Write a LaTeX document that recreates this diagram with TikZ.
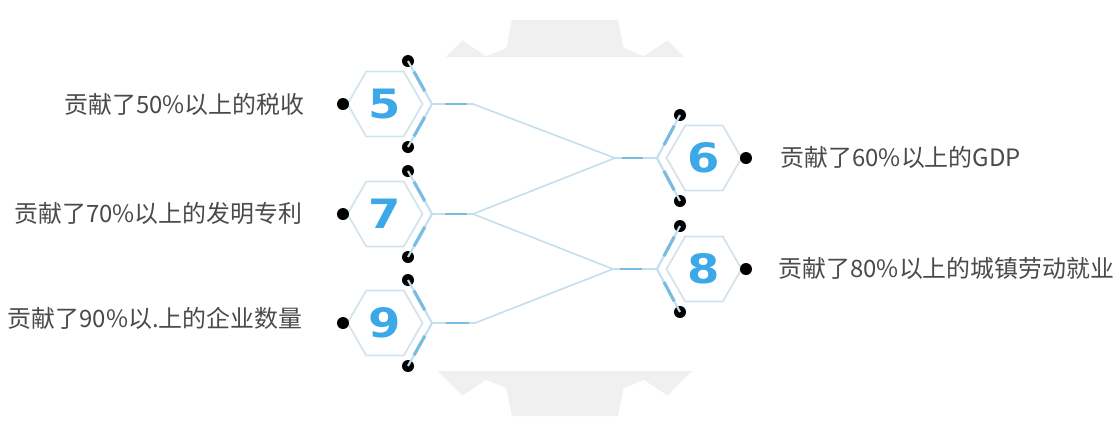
\documentclass[tikz,border=0pt]{standalone}
\usepackage{fontspec}
\newfontfamily\cjk{Noto Sans CJK SC}
\newfontfamily\numfont{DejaVu Sans}
\usetikzlibrary{shapes.geometric,calc}
\definecolor{hexline}{HTML}{D2E3EC}
\definecolor{linklight}{HTML}{C3DEEC}
\definecolor{linkdark}{HTML}{78BCE2}
\definecolor{numblue}{HTML}{3DA8E8}
\definecolor{labelgray}{HTML}{4A4A4A}
\definecolor{gearbg}{HTML}{F0F0F0}
\tikzset{
  hexbox/.style={regular polygon, regular polygon sides=6, minimum size=0.75cm, inner sep=0pt, draw=hexline, line width=0.5pt, text=numblue, font=\numfont\bfseries\fontsize{11.5}{12}\selectfont},
  dotnode/.style={circle, fill=black, inner sep=0pt, minimum size=0.12cm},
  chev/.style={draw=linklight, line width=0.6pt},
  chevdark/.style={draw=linkdark, line width=0.9pt},
  link/.style={draw=linklight, line width=0.45pt},
  linkhl/.style={draw=linkdark, line width=0.8pt},
  lbl/.style={text=labelgray, font=\cjk\fontsize{6.8}{8}\selectfont, inner sep=0pt}
}
\newcommand{\wdig}[1]{\scalebox{1.15}[1]{#1}}
\begin{document}
\begin{tikzpicture}[x=0.01cm, y=-0.01cm]
\useasboundingbox (0,0) rectangle (1120,423);
% background gear
\begin{scope}
\clip (0,0) rectangle (1120,57) (0,371) rectangle (1120,423);
\fill[gearbg, shift={(565,218)}] (72:180)
  \foreach \k in {0,...,7} {
    -- ({90+45*\k-19}:180) -- ({90+45*\k-15}:205) -- ({90+45*\k+15}:205)
    -- ({90+45*\k+19}:180) -- ({90+45*\k+26}:180)
  } -- cycle;
\end{scope}
% hexagons
\node[hexbox] (h5) at (385,104) {\wdig{5}};
\node[hexbox] (h7) at (385,214) {\wdig{7}};
\node[hexbox] (h9) at (385,323) {\wdig{9}};
\node[hexbox] (h6) at (704,158) {\wdig{6}};
\node[hexbox] (h8) at (704,269) {\wdig{8}};
% chevron vertices and junctions
\coordinate (c5) at (432,104);
\coordinate (c7) at (432,214);
\coordinate (c9) at (432,323);
\coordinate (c6) at (657,158);
\coordinate (c8) at (657,269);
\coordinate (j5) at (473,104);
\coordinate (j7) at (473,214);
\coordinate (j9) at (475,323);
\coordinate (k6) at (615,158);
\coordinate (k8) at (613,269);
% dots
\foreach \n/\y in {5/104,7/214,9/323}{
  \node[dotnode] (d\n t) at (408,\y-43) {};
  \node[dotnode] (d\n b) at (408,\y+43) {};
  \node[dotnode] (d\n l) at (343,\y) {};
}
\foreach \n/\y in {6/158,8/269}{
  \node[dotnode] (d\n t) at (680,\y-43) {};
  \node[dotnode] (d\n b) at (680,\y+43) {};
  \node[dotnode] (d\n r) at (746,\y) {};
}
% chevrons
\foreach \n in {5,7,9,6,8}{
  \draw[chev] (d\n t.center) -- (c\n) -- (d\n b.center);
  \draw[chevdark] ($(d\n t.center)!0.25!(c\n)$) -- ($(d\n t.center)!0.7!(c\n)$);
  \draw[chevdark] ($(d\n b.center)!0.25!(c\n)$) -- ($(d\n b.center)!0.7!(c\n)$);
}
% connectors
\draw[link] (c5) -- (j5) -- (k6) -- (c6);
\draw[link] (c7) -- (j7) -- (k6);
\draw[link] (j7) -- (k8) -- (c8);
\draw[link] (c9) -- (j9) -- (k8);
\foreach \a/\b in {c5/j5,c7/j7,c9/j9}{
  \draw[linkhl] ($(\a)!0.32!(\b)$) -- ($(\a)!0.85!(\b)$);
}
\foreach \a/\b in {k6/c6,k8/c8}{
  \draw[linkhl] ($(\a)!0.17!(\b)$) -- ($(\a)!0.67!(\b)$);
}
% labels
\node[lbl, anchor=east] (t5) at (305,104) {贡献了50\%以上的税收};
\node[lbl, anchor=east] (t7) at (303,213) {贡献了70\%以上的发明专利};
\node[lbl, anchor=east] (t9) at (303,318) {贡献了90\%以.上的企业数量};
\node[lbl, anchor=west] (t6) at (780,157) {贡献了60\%以上的GDP};
\node[lbl, anchor=west] (t8) at (778,268) {贡献了80\%以上的城镇劳动就业};
\end{tikzpicture}
\end{document}
